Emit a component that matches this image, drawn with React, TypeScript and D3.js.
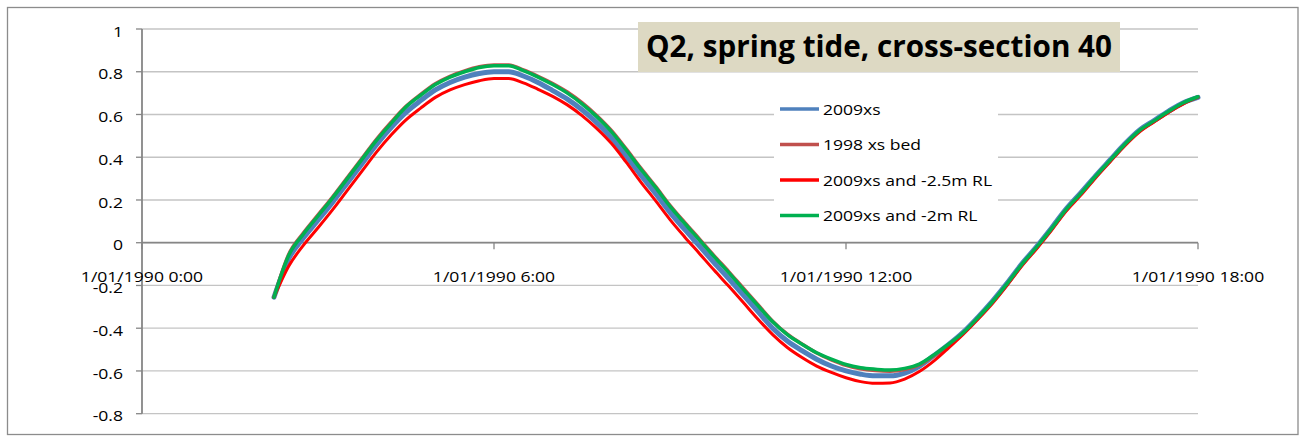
import React from "react";
import * as d3 from "d3";

// ---------- data ----------
const hours: number[] = [
  2.25, 2.5, 2.75, 3, 3.25, 3.5, 3.75, 4, 4.25, 4.5, 4.75, 5, 5.25, 5.5, 5.75, 6,
  6.25, 6.5, 6.75, 7, 7.25, 7.5, 7.75, 8, 8.25, 8.5, 8.75, 9, 9.25, 9.5, 9.75, 10,
  10.25, 10.5, 10.75, 11, 11.25, 11.5, 11.75, 12, 12.25, 12.5, 12.75, 13, 13.25, 13.5, 13.75, 14,
  14.25, 14.5, 14.75, 15, 15.25, 15.5, 15.75, 16, 16.25, 16.5, 16.75, 17, 17.25, 17.5, 17.75, 18,
];

const xs2009: number[] = [
  -0.255, -0.075, 0.022, 0.105, 0.19, 0.28, 0.37, 0.46, 0.54, 0.61, 0.665, 0.715, 0.75, 0.775, 0.792, 0.8,
  0.8, 0.78, 0.75, 0.712, 0.672, 0.622, 0.562, 0.492, 0.407, 0.317, 0.232, 0.142, 0.062, -0.015, -0.093, -0.168,
  -0.245, -0.322, -0.4, -0.46, -0.505, -0.545, -0.577, -0.6, -0.615, -0.623, -0.623, -0.61, -0.578, -0.528, -0.476, -0.418,
  -0.348, -0.272, -0.188, -0.098, -0.018, 0.068, 0.157, 0.233, 0.312, 0.387, 0.462, 0.527, 0.572, 0.616, 0.655, 0.68,
];

const xsBed1998: number[] = [
  -0.255, -0.055, 0.045, 0.13, 0.215, 0.305, 0.395, 0.485, 0.565, 0.638, 0.694, 0.744, 0.779, 0.804, 0.823, 0.832,
  0.831, 0.809, 0.779, 0.745, 0.705, 0.655, 0.595, 0.525, 0.44, 0.35, 0.265, 0.175, 0.095, 0.018, -0.06, -0.135,
  -0.213, -0.29, -0.367, -0.428, -0.474, -0.516, -0.548, -0.574, -0.59, -0.598, -0.601, -0.593, -0.572, -0.528, -0.478, -0.422,
  -0.352, -0.277, -0.193, -0.103, -0.023, 0.062, 0.152, 0.228, 0.307, 0.382, 0.457, 0.522, 0.567, 0.612, 0.652, 0.682,
];

const xs2009rl25: number[] = [
  -0.255, -0.11, -0.012, 0.07, 0.155, 0.245, 0.335, 0.425, 0.505, 0.575, 0.63, 0.68, 0.715, 0.74, 0.758, 0.768,
  0.768, 0.748, 0.718, 0.685, 0.645, 0.595, 0.535, 0.465, 0.378, 0.285, 0.198, 0.108, 0.027, -0.05, -0.128, -0.203,
  -0.28, -0.358, -0.43, -0.49, -0.537, -0.577, -0.607, -0.632, -0.65, -0.658, -0.656, -0.638, -0.603, -0.553, -0.492, -0.428,
  -0.358, -0.283, -0.198, -0.108, -0.028, 0.057, 0.147, 0.222, 0.302, 0.378, 0.453, 0.518, 0.565, 0.61, 0.65, 0.68,
];

const xs2009rl2: number[] = [
  -0.255, -0.06, 0.04, 0.125, 0.21, 0.3, 0.39, 0.48, 0.56, 0.635, 0.69, 0.74, 0.775, 0.8, 0.82, 0.828,
  0.828, 0.805, 0.775, 0.74, 0.7, 0.65, 0.59, 0.52, 0.435, 0.345, 0.26, 0.17, 0.09, 0.013, -0.065, -0.14,
  -0.218, -0.295, -0.37, -0.43, -0.475, -0.515, -0.545, -0.57, -0.585, -0.592, -0.596, -0.588, -0.568, -0.525, -0.475, -0.42,
  -0.35, -0.275, -0.19, -0.1, -0.02, 0.065, 0.155, 0.23, 0.31, 0.385, 0.46, 0.525, 0.57, 0.615, 0.655, 0.683,
];

const seriesNames: string[] = ["2009xs", "1998 xs bed", "2009xs and -2.5m RL", "2009xs and -2m RL"];
const seriesValues: number[][] = [xs2009, xsBed1998, xs2009rl25, xs2009rl2];

const xTickHours: number[] = [0, 6, 12, 18];
const xTickLabels: string[] = ["1/01/1990 0:00", "1/01/1990 6:00", "1/01/1990 12:00", "1/01/1990 18:00"];
const yTicks: number[] = [-0.8, -0.6, -0.4, -0.2, 0, 0.2, 0.4, 0.6, 0.8, 1];

const title = "Q2, spring tide, cross-section 40";

// ---------- styles ----------
const colors = ["#4F81BD", "#C0504D", "#FF0000", "#00B050"];
const widths = [5, 3.5, 3, 3.5];
const FONT = "'Open Sans', 'Liberation Sans', sans-serif";
const SX = 1.17;

const W = 1303;
const H = 437;

const toDate = (h: number) => new Date(1990, 0, 1, 0, Math.round(h * 60));

export default function App() {
  const x = d3
    .scaleTime()
    .domain([toDate(0), toDate(18)])
    .range([142, 1198]);
  const y = d3.scaleLinear().domain([-0.8, 1]).range([413.7, 29]);

  const line = d3
    .line<[number, number]>()
    .x((d) => x(toDate(d[0])))
    .y((d) => y(d[1]))
    .curve(d3.curveMonotoneX);

  const y0 = y(0);
  const legendX = 780;
  const legendY0 = 109;
  const legendDy = 35.5;

  return (
    <div style={{ position: "absolute", left: 0, top: 0 }}>
      <svg width={W} height={H} style={{ display: "block", background: "#fff" }}>
        <rect x={7.5} y={7.5} width={1290.5} height={427} fill="#fff" stroke="#8C8C8C" strokeWidth={1.3} />

        {/* gridlines */}
        {yTicks.map((t) => (
          <line
            key={"g" + t}
            x1={142}
            x2={1198}
            y1={y(t)}
            y2={y(t)}
            stroke="#C4C4C4"
            strokeWidth={1.3}
          />
        ))}

        {/* y axis */}
        <line x1={142} x2={142} y1={y(1)} y2={y(-0.8)} stroke="#868686" strokeWidth={1.8} />
        {yTicks.map((t) => (
          <g key={"yt" + t}>
            <line x1={136} x2={142} y1={y(t)} y2={y(t)} stroke="#868686" strokeWidth={1.3} />
            <text
              transform={`translate(123,${y(t) + 7.6}) scale(${SX},1)`}
              textAnchor="end"
              fontFamily={FONT}
              fontSize={15}
              fill="#000"
            >
              {String(t)}
            </text>
          </g>
        ))}

        {/* x axis at zero */}
        <line x1={142} x2={1198} y1={y0} y2={y0} stroke="#868686" strokeWidth={1.8} />
        {xTickHours.map((h, i) => (
          <g key={"xt" + h}>
            <line
              x1={x(toDate(h))}
              x2={x(toDate(h))}
              y1={y0}
              y2={y0 + 6.5}
              stroke="#868686"
              strokeWidth={1.3}
            />
            <text
              transform={`translate(${x(toDate(h))},281.5) scale(${SX},1)`}
              textAnchor="middle"
              fontFamily={FONT}
              fontSize={15}
              fill="#000"
            >
              {xTickLabels[i]}
            </text>
          </g>
        ))}

        {/* series */}
        {seriesValues.map((vals, si) => (
          <path
            key={"s" + si}
            d={line(hours.map((h, i) => [h, vals[i]] as [number, number])) || ""}
            fill="none"
            stroke={colors[si]}
            strokeWidth={widths[si]}
            strokeLinejoin="round"
            strokeLinecap="round"
          />
        ))}

        {/* legend */}
        <rect x={774} y={88} width={224} height={146} fill="#fff" />
        {seriesNames.map((name, i) => (
          <g key={"l" + i}>
            <line
              x1={legendX}
              x2={legendX + 39}
              y1={legendY0 + i * legendDy}
              y2={legendY0 + i * legendDy}
              stroke={colors[i]}
              strokeWidth={3.5}
            />
            <text
              transform={`translate(823,${legendY0 + i * legendDy + 5.5}) scale(${SX},1)`}
              fontFamily={FONT}
              fontSize={15}
              fill="#000"
            >
              {name}
            </text>
          </g>
        ))}

        {/* title */}
        <rect x={638} y={22} width={482} height={50} fill="#DDD9C3" />
        <text
          x={646}
          y={57}
          fontFamily={FONT}
          fontWeight="bold"
          fontSize={30}
          textLength={466}
          lengthAdjust="spacingAndGlyphs"
          fill="#000"
        >
          {title}
        </text>
      </svg>
    </div>
  );
}
